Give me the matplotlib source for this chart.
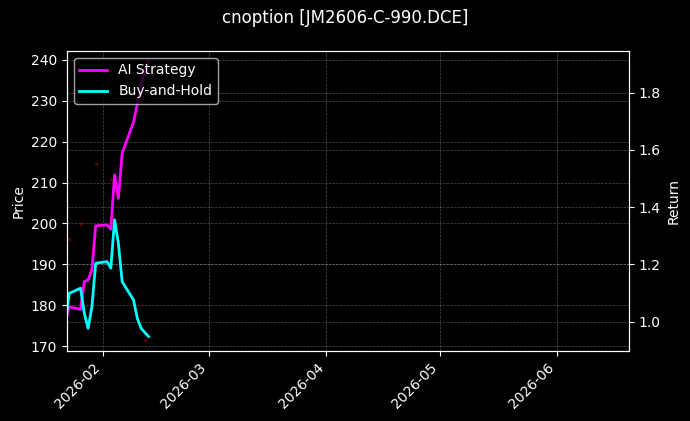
import matplotlib
matplotlib.use("Agg")
import matplotlib.pyplot as plt
import matplotlib.dates as mdates
import pandas as pd

plt.style.use("dark_background")

dates = ["2026-01-22", "2026-01-23", "2026-01-26", "2026-01-27", "2026-01-28",
         "2026-01-29", "2026-01-30", "2026-02-02", "2026-02-03", "2026-02-04",
         "2026-02-05", "2026-02-06", "2026-02-09", "2026-02-10", "2026-02-11",
         "2026-02-12", "2026-02-13"]
ai_strategy = [1.00, 1.052, 1.043, 1.140, 1.146, 1.180, 1.335, 1.338, 1.323, 1.513,
               1.431, 1.589, 1.697, 1.760, 1.830, 1.880, 1.910]
buy_hold = [1.00, 1.099, 1.117, 1.029, 0.977, 1.052, 1.204, 1.210, 1.187, 1.356,
            1.274, 1.140, 1.076, 1.012, 0.977, 0.962, 0.948]

price_dates = ["2026-01-23", "2026-01-26", "2026-01-30", "2026-02-03", "2026-02-12"]
price_vals = [196.3, 199.8, 214.6, 211.0, 171.5]

title = "cnoption [JM2606-C-990.DCE]"
x_start, x_end = "2026-01-22", "2026-06-20"

d = pd.to_datetime(dates)
pd_ = pd.to_datetime(price_dates)

fig = plt.figure(figsize=(6.9, 4.21), dpi=100)
ax = fig.add_axes([0.0971, 0.1663, 0.8145, 0.7126])
ax.set_facecolor("black")
fig.patch.set_facecolor("black")

ax.scatter(pd_, price_vals, s=2, color="#5a0000", zorder=1)
ax.set_ylim(168.8, 242.2)
ax.set_yticks([170, 180, 190, 200, 210, 220, 230, 240])
ax.set_ylabel("Price")
ax.grid(True, linestyle="--", linewidth=0.5, alpha=0.3)

ax2 = ax.twinx()
l1, = ax2.plot(d, ai_strategy, color="#ff00ff", linewidth=2, label="AI Strategy")
l2, = ax2.plot(d, buy_hold, color="#00ffff", linewidth=2, label="Buy-and-Hold")
ax2.set_ylim(0.8976, 1.9458)
ax2.set_yticks([1.0, 1.2, 1.4, 1.6, 1.8])
ax2.set_ylabel("Return")
ax2.grid(True, linestyle="--", linewidth=0.5, alpha=0.3)

ax.set_xlim(pd.Timestamp(x_start) + pd.Timedelta(hours=10), pd.Timestamp(x_end))
ax.xaxis.set_major_locator(mdates.MonthLocator())
ax.xaxis.set_major_formatter(mdates.DateFormatter("%Y-%m"))
plt.setp(ax.get_xticklabels(), rotation=45, ha="right")

leg = ax2.legend(handles=[l1, l2], loc="upper left")

fig.suptitle(title, fontsize=12, y=0.978)

fig.savefig("out.png", dpi=100, facecolor="black")
